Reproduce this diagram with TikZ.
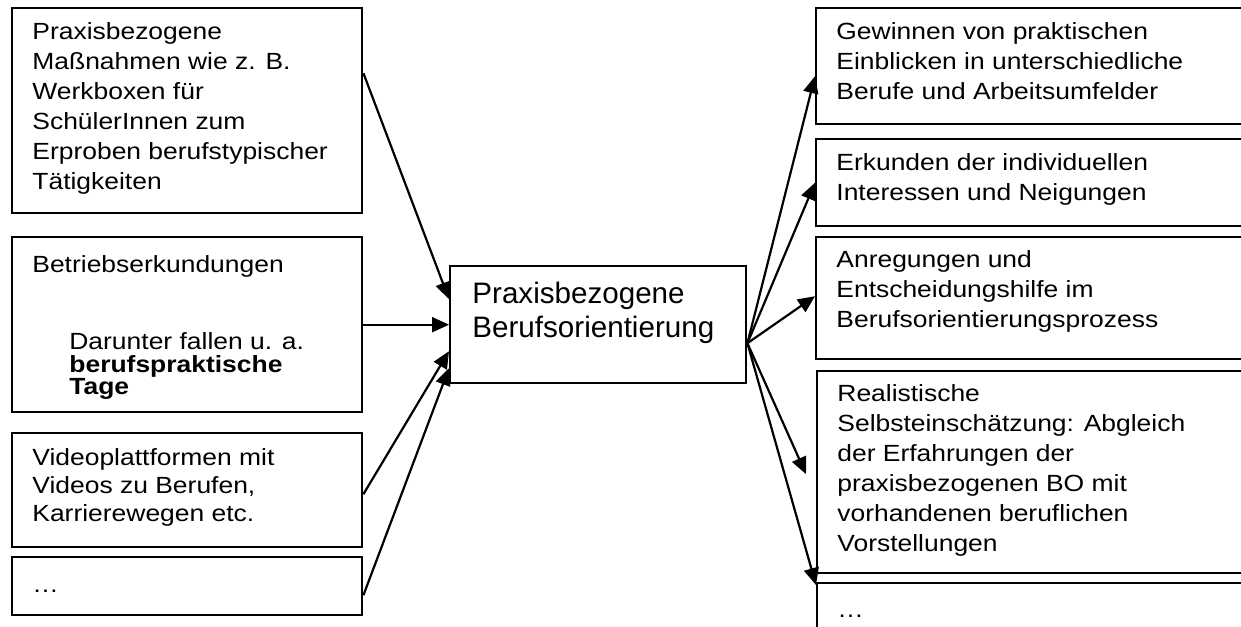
\documentclass[tikz,border=0pt]{standalone}
\usepackage{fontspec}
\setmainfont[FakeStretch=1.13]{Liberation Sans}
\newfontfamily\centerfam{Liberation Sans}
\usetikzlibrary{arrows.meta,positioning}
\newcommand{\boxfont}{\fontsize{11.7}{14}\selectfont}
\newcommand{\rightfont}{\fontsize{11.7}{15}\selectfont}
\newcommand{\centerfont}{\centerfam\fontsize{14.8}{17}\selectfont}
\newcommand{\tightfont}{\fontsize{11.7}{11.25}\selectfont}
\tikzset{
  >={Triangle[length=8.5pt,width=7.5pt]},
  box/.style={draw=black,line width=1.2pt,anchor=north west,inner sep=0pt},
  txt/.style={inner sep=0pt,align=left,font=\boxfont,execute at begin node=\strut},
  rtxt/.style={txt,font=\rightfont},
  arrow/.style={->,line width=1.1pt},
}

\begin{document}
\begin{tikzpicture}[x=0.5pt,y=-0.5pt]
\useasboundingbox (0,0) rectangle (1241,626);
\clip (0,0) rectangle (1241,626);
% linke Spalte
\node[box,minimum width=175pt,minimum height=102.5pt] (l1) at (11,7) {};
\node[rtxt,below right=7.5pt and 10.5pt of l1.north west] (l1t) {Praxisbezogene\\Maßnahmen wie z. B.\\Werkboxen für\\SchülerInnen zum\\Erproben berufstypischer\\Tätigkeiten};
\node[box,minimum width=175pt,minimum height=87.5pt] (l2) at (11,236) {};
\node[txt,below right=8.2pt and 10.5pt of l2.north west] (l2t) {Betriebserkundungen};
\node[txt,font=\tightfont,below right=48.1pt and 29pt of l2.north west] (l2s) {Darunter fallen u. a.\\\textbf{berufspraktische}\\\textbf{Tage}};
\node[box,minimum width=175pt,minimum height=57pt] (l3) at (11,432) {};
\node[txt,below right=8pt and 10.5pt of l3.north west] (l3t) {Videoplattformen mit\\Videos zu Berufen,\\Karrierewegen etc.};
\node[box,minimum width=175pt,minimum height=29pt] (l4) at (11,556) {};
\node[txt,below right=8.2pt and 10.5pt of l4.north west] (l4t) {…};
% Mitte
\node[box,minimum width=148pt,minimum height=58.5pt] (bo) at (449,265) {};
\node[txt,font=\centerfont,below right=8.1pt and 11.5pt of bo.north west] (bot) {Praxisbezogene\\Berufsorientierung};
% rechte Spalte
\node[box,minimum width=242.5pt,minimum height=58pt] (r1) at (815,7) {};
\node[rtxt,below right=7.5pt and 10.5pt of r1.north west] (r1t) {Gewinnen von praktischen\\Einblicken in unterschiedliche\\Berufe und Arbeitsumfelder};
\node[box,minimum width=242.5pt,minimum height=43.5pt] (r2) at (815,138) {};
\node[rtxt,below right=7.5pt and 10.5pt of r2.north west] (r2t) {Erkunden der individuellen\\Interessen und Neigungen};
\node[box,minimum width=242.5pt,minimum height=61pt] (r3) at (815,236) {};
\node[rtxt,below right=7pt and 10.5pt of r3.north west] (r3t) {Anregungen und\\Entscheidungshilfe im\\Berufsorientierungsprozess};
\node[box,minimum width=242.5pt,minimum height=101pt] (r4) at (816,370) {};
\node[rtxt,below right=7pt and 10.5pt of r4.north west] (r4t) {Realistische\\Selbsteinschätzung: Abgleich\\der Erfahrungen der\\praxisbezogenen BO mit\\vorhandenen beruflichen\\Vorstellungen};
\node[box,minimum width=242.5pt,minimum height=49pt] (r5) at (816,582) {};
\node[rtxt,below right=7pt and 10.5pt of r5.north west] (r5t) {…};
% Pfeile
\draw[arrow] ([yshift=18.75pt]l1.east) -- ([yshift=12.75pt]bo.west);
\draw[arrow] (l2.east) -- (bo.west);
\draw[arrow] ([yshift=-2pt]l3.east) -- ([yshift=-13.25pt]bo.west);
\draw[arrow] ([yshift=-4.5pt]l4.east) -- ([yshift=-21.75pt]bo.west);
\coordinate (out) at ([yshift=-9.25pt]bo.east);
\draw[arrow] (out) -- ([yshift=-5pt]r1.west);
\draw[arrow] (out) -- (r2.west);
\draw[arrow] (out) -- ([yshift=1pt]r3.west);
\draw[arrow] (out) -- ([xshift=-5pt,yshift=-1pt]r4.west);
\draw[arrow] (out) -- ([yshift=-1.5pt]r5.north west);
\end{tikzpicture}
\end{document}
